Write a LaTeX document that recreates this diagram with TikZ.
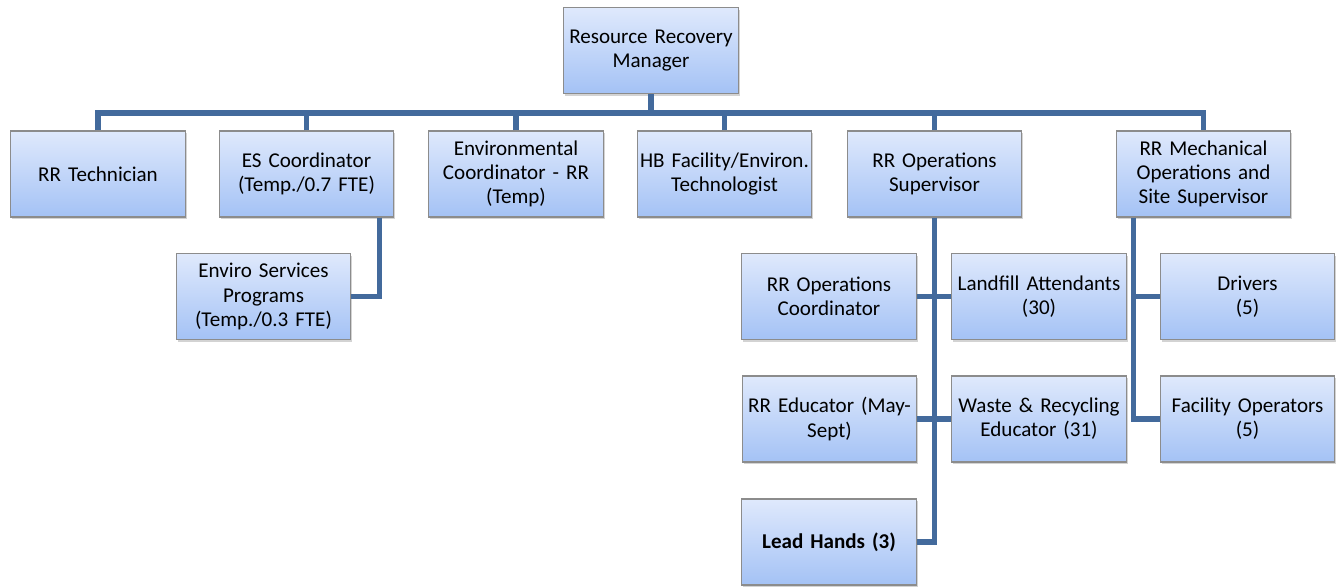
\documentclass[tikz,border=0pt]{standalone}
\usepackage{fontspec}
\setmainfont{Carlito}
\usetikzlibrary{shadows,calc}
\definecolor{linec}{RGB}{67,106,156}
\definecolor{boxtop}{RGB}{223,233,252}
\definecolor{boxbot}{RGB}{164,194,245}
\definecolor{boxline}{RGB}{140,140,140}
\begin{document}
\begin{tikzpicture}[x=0.75pt,y=-0.75pt,
  box/.style={draw=boxline, line width=0.8pt, top color=boxtop, bottom color=boxbot,
    minimum width=129.5pt, minimum height=64.5pt, inner sep=1pt, align=center,
    font=\fontsize{15.8}{18.2}\selectfont, text width=129pt,
    drop shadow={opacity=0.35, shadow xshift=1.2pt, shadow yshift=-1.8pt}},
  conn/.style={draw=linec, line width=4pt, line join=miter}]
\useasboundingbox (0,0) rectangle (1339,587);
\coordinate (busy) at (0,113);
% nodes
\node[box] (mgr) at (651,50.5) {Resource Recovery\\Manager};
\node[box] (tech) at (98,174) {RR Technician};
\node[box] (es) at (306.5,174) {ES Coordinator\\(Temp./0.7 FTE)};
\node[box] (env) at (516,174) {Environmental\\Coordinator - RR\\(Temp)};
\node[box] (hb) at (724.5,174) {HB Facility/Environ.\\Technologist};
\node[box] (ops) at (934.5,174) {RR Operations\\Supervisor};
\node[box] (mech) at (1203.5,174) {RR Mechanical\\Operations and\\Site Supervisor};
\node[box] (enviro) at (263.5,296.5) {Enviro Services\\Programs\\(Temp./0.3 FTE)};
\node[box] (coord) at (829,296.5) {RR Operations\\Coordinator};
\node[box] (landfill) at (1039,296.5) {Landfill Attendants\\(30)};
\node[box] (educ) at (829.5,419) {RR Educator (May-\\Sept)};
\node[box] (waste) at (1039,419) {Waste \& Recycling\\Educator (31)};
\node[box] (lead) at (829,542) {\textbf{Lead Hands (3)}};
\node[box] (drivers) at (1247.5,296.5) {Drivers\\(5)};
\node[box] (facility) at (1247.5,419) {Facility Operators\\(5)};
% connectors
\draw[conn] (mgr.south) -- (mgr.south |- busy);
\draw[conn] (tech.north) -- (tech.north |- busy) -- (mech.north |- busy) -- (mech.north);
\draw[conn] (es.north) -- (es.north |- busy);
\draw[conn] (env.north) -- (env.north |- busy);
\draw[conn] (hb.north) -- (hb.north |- busy);
\draw[conn] (ops.north) -- (ops.north |- busy);
\coordinate (esx) at ($(es.south east)+(-15,0)$);
\draw[conn] (esx) |- (enviro.east);
\draw[conn] (ops.south) |- (lead.east);
\draw[conn] (coord.east) -- (landfill.west);
\draw[conn] (educ.east) -- (waste.west);
\coordinate (mechx) at ($(mech.south west)+(18,0)$);
\draw[conn] (mechx) |- (facility.west);
\draw[conn] (drivers.west) -- (drivers.west -| mechx);
\end{tikzpicture}
\end{document}
